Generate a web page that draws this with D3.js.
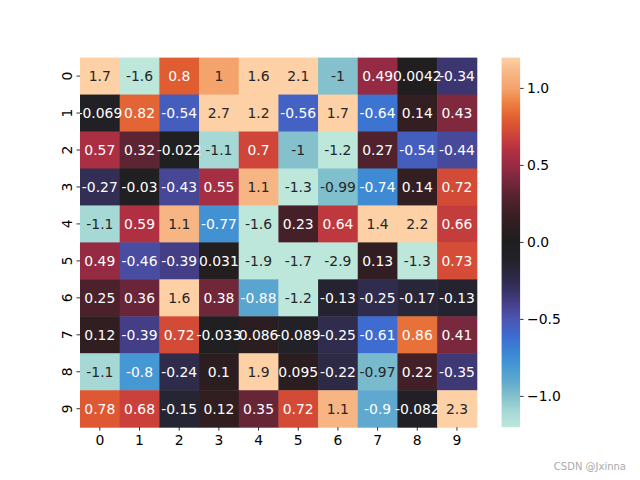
<!DOCTYPE html>
<html><head><meta charset="utf-8">
<script src="https://cdn.jsdelivr.net/npm/d3@7"></script>
<style>body{margin:0;background:#fff}svg{display:block}text{font-family:"DejaVu Sans",sans-serif}</style>
</head><body>
<script>
const rowLabels = ["0","1","2","3","4","5","6","7","8","9"];
const colLabels = ["0","1","2","3","4","5","6","7","8","9"];
const row0 = [1.7, -1.6, 0.8, 1, 1.6, 2.1, -1, 0.49, 0.0042, -0.34];
const row1 = [-0.069, 0.82, -0.54, 2.7, 1.2, -0.56, 1.7, -0.64, 0.14, 0.43];
const row2 = [0.57, 0.32, -0.022, -1.1, 0.7, -1, -1.2, 0.27, -0.54, -0.44];
const row3 = [-0.27, -0.03, -0.43, 0.55, 1.1, -1.3, -0.99, -0.74, 0.14, 0.72];
const row4 = [-1.1, 0.59, 1.1, -0.77, -1.6, 0.23, 0.64, 1.4, 2.2, 0.66];
const row5 = [0.49, -0.46, -0.39, 0.031, -1.9, -1.7, -2.9, 0.13, -1.3, 0.73];
const row6 = [0.25, 0.36, 1.6, 0.38, -0.88, -1.2, -0.13, -0.25, -0.17, -0.13];
const row7 = [0.12, -0.39, 0.72, -0.033, 0.086, -0.089, -0.25, -0.61, 0.86, 0.41];
const row8 = [-1.1, -0.8, -0.24, 0.1, 1.9, 0.095, -0.22, -0.97, 0.22, -0.35];
const row9 = [0.78, 0.68, -0.15, 0.12, 0.35, 0.72, 1.1, -0.9, -0.082, 2.3];
const rows = [row0,row1,row2,row3,row4,row5,row6,row7,row8,row9];
const cbTicks = [-1.0, -0.5, 0.0, 0.5, 1.0];
const vmin = -1.2, vmax = 1.2;

(function(){
const W = 640, H = 480;
const pL = 80, pR = 476.8, pT = 57.6, pB = 427.2;
const cbLeft = 501.6, cbW = 18.5;

const svg = d3.select("body").append("svg").attr("width", W).attr("height", H);

const stopVals = [-1.2,-1.1,-1.0,-0.9,-0.8,-0.7,-0.6,-0.5,-0.4,-0.3,-0.2,-0.1,0,0.1,0.2,0.3,0.4,0.5,0.6,0.7,0.8,0.9,1.0,1.1,1.2];
const stopCols = ["#bde7db","#a6d9d5","#84c1cc","#5fa8cf","#4598d3","#3a82d4","#3e6ad0","#4a56b2","#45408a","#36305e","#2a283e","#222128","#1f1e1f","#2c1e20","#3e1f26","#572331","#76283c","#972b43","#b33042","#d04539","#e05d31","#ee7e3f","#f4a36c","#f8b584","#fdd0a6"];
const color = d3.scaleLinear().domain(stopVals).range(stopCols).interpolate(d3.interpolateRgb).clamp(true);

const x = d3.scaleBand().domain(colLabels).range([pL, pR]);
const y = d3.scaleBand().domain(rowLabels).range([pT, pB]);

function lum(c) {
  const r = d3.rgb(c);
  const f = v => { v /= 255; return v <= 0.03928 ? v / 12.92 : Math.pow((v + 0.055) / 1.055, 2.4); };
  return 0.2126 * f(r.r) + 0.7152 * f(r.g) + 0.0722 * f(r.b);
}

const cells = [];
rows.forEach((r, i) => r.forEach((v, j) => cells.push({r: rowLabels[i], c: colLabels[j], v})));

svg.append("g").selectAll("rect").data(cells).join("rect")
  .attr("x", d => x(d.c)).attr("y", d => y(d.r))
  .attr("width", x.bandwidth() + 0.5).attr("height", y.bandwidth() + 0.5)
  .attr("fill", d => color(d.v));

svg.append("g").selectAll("text").data(cells).join("text")
  .attr("x", d => x(d.c) + x.bandwidth() / 2)
  .attr("y", d => y(d.r) + y.bandwidth() / 2)
  .attr("text-anchor", "middle").attr("dominant-baseline", "central")
  .attr("font-size", "13.9px")
  .attr("fill", d => lum(color(d.v)) > 0.408 ? "#262626" : "#ffffff")
  .text(d => String(d.v));

const xa = svg.append("g");
colLabels.forEach(c => {
  const cx = x(c) + x.bandwidth() / 2;
  xa.append("line").attr("x1", cx).attr("x2", cx).attr("y1", pB).attr("y2", pB + 3.5).attr("stroke", "#000").attr("stroke-width", 0.8);
  xa.append("text").attr("x", cx).attr("y", pB + 7).attr("dominant-baseline", "hanging").attr("text-anchor", "middle").attr("font-size", "13.9px").attr("fill", "#000").text(c);
});
const ya = svg.append("g");
rowLabels.forEach(r => {
  const cy = y(r) + y.bandwidth() / 2;
  ya.append("line").attr("x1", pL - 3.5).attr("x2", pL).attr("y1", cy).attr("y2", cy).attr("stroke", "#000").attr("stroke-width", 0.8);
  ya.append("text").attr("transform", `translate(${pL - 13},${cy}) rotate(-90)`).attr("text-anchor", "middle").attr("dominant-baseline", "central").attr("font-size", "13.9px").attr("fill", "#000").text(r);
});

const cyS = d3.scaleLinear().domain([vmin, vmax]).range([pB, pT]);
const defs = svg.append("defs");
const grad = defs.append("linearGradient").attr("id", "cb").attr("x1", 0).attr("y1", 1).attr("x2", 0).attr("y2", 0);
stopVals.forEach((v, i) => grad.append("stop").attr("offset", (v - vmin) / (vmax - vmin)).attr("stop-color", stopCols[i]));
svg.append("rect").attr("x", cbLeft).attr("y", pT).attr("width", cbW).attr("height", pB - pT).attr("fill", "url(#cb)");
const cba = svg.append("g");
cbTicks.forEach(t => {
  const ty = cyS(t);
  cba.append("line").attr("x1", cbLeft + cbW).attr("x2", cbLeft + cbW + 3.5).attr("y1", ty).attr("y2", ty).attr("stroke", "#000").attr("stroke-width", 0.8);
  cba.append("text").attr("x", cbLeft + cbW + 7).attr("y", ty).attr("dominant-baseline", "central").attr("font-size", "13.9px").attr("fill", "#000").text(d3.format(".1f")(t));
});

svg.append("text").attr("x", 626).attr("y", 470).attr("text-anchor", "end").attr("font-size", "10px").attr("fill", "#aaaaaa").attr("font-family", "Arial, Liberation Sans, sans-serif").text("CSDN @Jxinna");
})();
</script>
</body></html>
